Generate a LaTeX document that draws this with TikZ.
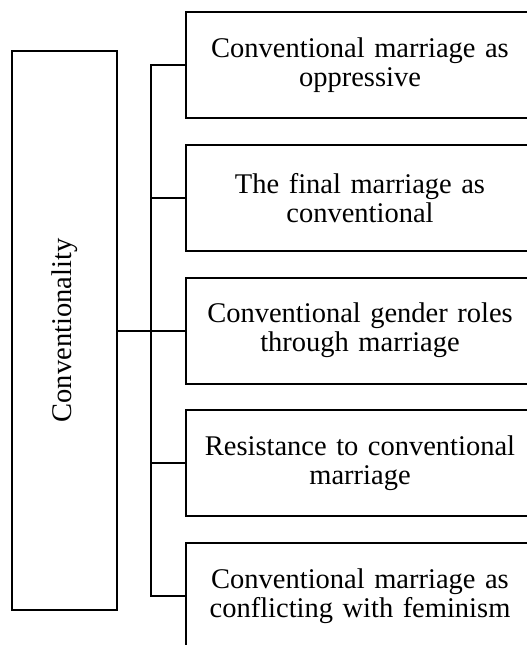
\documentclass[tikz,border=0pt]{standalone}
\usepackage{fontspec}
\setmainfont{Liberation Serif}
\usepackage{tikz}
\usetikzlibrary{positioning}

\begin{document}
\begin{tikzpicture}[x=1pt,y=1pt,line width=2pt,node distance=132.75pt,
        font=\fontsize{28.5}{29}\selectfont,
        branch/.style={draw,minimum width=348pt,minimum height=106pt,
          text width=340pt,align=center,inner sep=2pt},
        rootbox/.style={draw,minimum width=105pt,minimum height=559pt,inner sep=0pt}]

  \path[use as bounding box,clip] (0,0) rectangle (527,-645);

  \node[rootbox] (root) at (64.5,-330.5) {\rotatebox{90}{Conventionality}};
  \node[branch] (b1) at (360,-65) {Conventional marriage as\\oppressive};
  \node[branch] (b2) [below of=b1] {The final marriage as\\conventional};
  \node[branch] (b3) [below of=b2] {Conventional gender roles\\through marriage};
  \node[branch] (b4) [below of=b3] {Resistance to conventional\\marriage};
  \node[branch] (b5) [below of=b4] {Conventional marriage as\\conflicting with feminism};

  \draw (b1.west) -- ++(-34,0) coordinate (s1) |- (b5.west);
  \foreach \n in {2,3,4}
    \draw (b\n.west) -- (b\n.west -| s1);
  \draw (root.east) -- (root.east -| s1);

\end{tikzpicture}
\end{document}
